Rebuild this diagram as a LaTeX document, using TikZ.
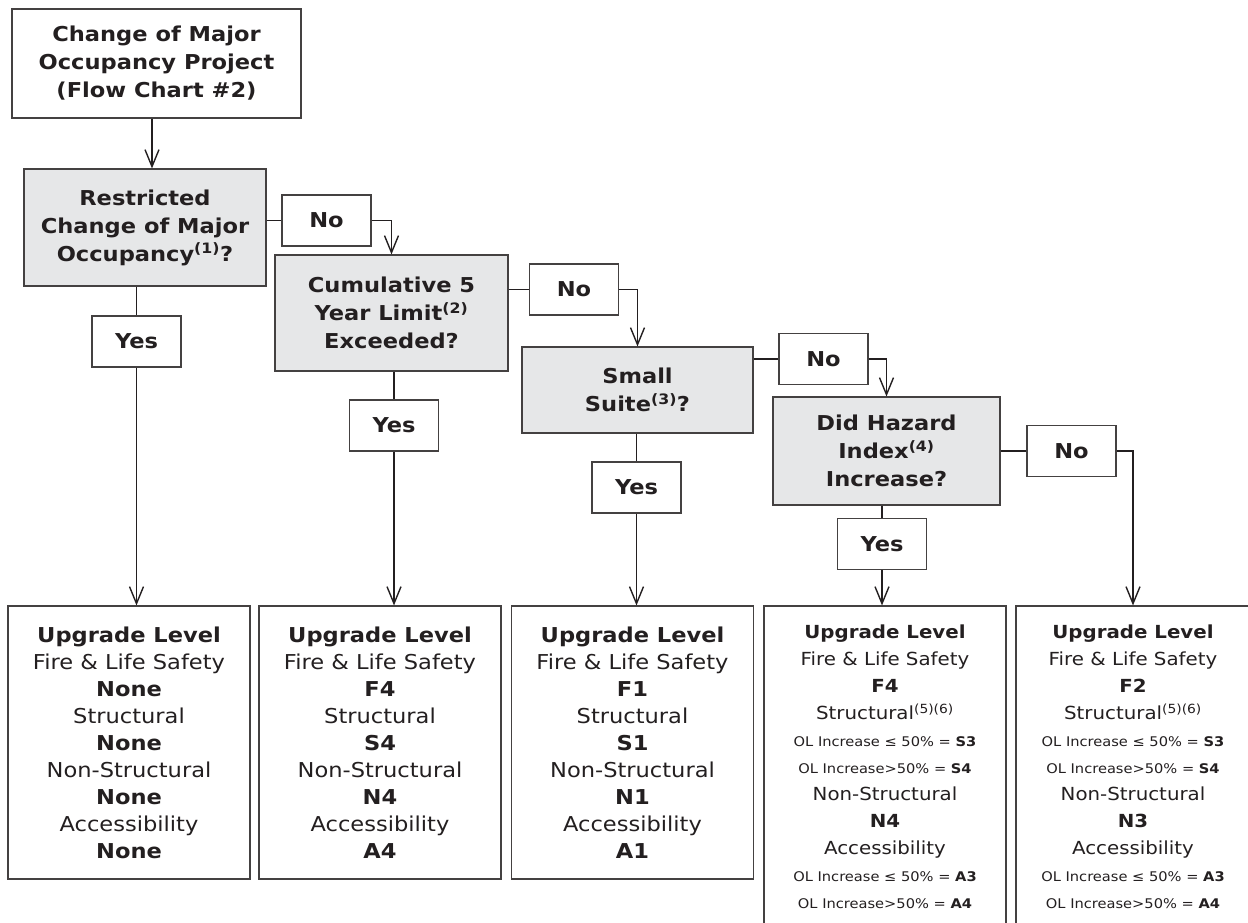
\documentclass[tikz,border=0pt]{standalone}
\usepackage{fontspec}
\setmainfont{DejaVu Sans}[FakeStretch=1.1]
\usetikzlibrary{arrows.meta}
\definecolor{qgray}{HTML}{E6E7E8}
\definecolor{ink}{HTML}{231F20}
\newcommand{\olsmall}[2]{{\fontsize{13.3}{27}\selectfont OL Increase#1 = \textbf{#2}}}

\begin{document}
\begin{tikzpicture}[x=1pt,y=-1pt,
    box/.style={draw=ink!85, line width=1.1pt, text=ink, align=center, inner sep=0pt},
    question/.style={box, fill=qgray, font=\fontsize{20.5}{28}\selectfont\bfseries},
    answer/.style={box, fill=white, minimum width=89, minimum height=51, font=\fontsize{20.5}{24}\selectfont\bfseries},
    level/.style={box, minimum width=242, minimum height=273, font=\fontsize{20.5}{27}\selectfont},
    levelsplit/.style={level, minimum height=322, font=\fontsize{18}{27}\selectfont},
    flow/.style={draw=ink, line width=1.4pt},
    arrow/.style={flow, -{Straight Barb[length=17pt,width=14pt]}}]
    \clip (0,0) rectangle (1248,923);

    % Start and questions
    \node[box, minimum width=289, minimum height=109, font=\fontsize{20.5}{28}\selectfont\bfseries] (start) at (156.5,63.5) {Change of Major\\Occupancy Project\\(Flow Chart \#2)};
    \node[question, minimum width=242, minimum height=117] (q1) at (145,227.5) {Restricted\\Change of Major\\Occupancy\textsuperscript{(1)}?};
    \node[question, minimum width=233, minimum height=116] (q2) at (391.5,313) {Cumulative 5\\Year Limit\textsuperscript{(2)}\\Exceeded?};
    \node[question, minimum width=231, minimum height=86] (q3) at (637.5,390) {Small\\Suite\textsuperscript{(3)}?};
    \node[question, minimum width=227, minimum height=108] (q4) at (886.5,451) {Did Hazard\\Index\textsuperscript{(4)}\\Increase?};

    % Answers
    \node[answer] (no1) at (326.5,220.5) {No};
    \node[answer] (no2) at (574,289.5) {No};
    \node[answer] (no3) at (823.5,359) {No};
    \node[answer] (no4) at (1071.5,451) {No};
    \node[answer] (yes1) at (136.5,341.5) {Yes};
    \node[answer] (yes2) at (394,425.5) {Yes};
    \node[answer] (yes3) at (636.5,487.5) {Yes};
    \node[answer] (yes4) at (882,544) {Yes};

    % Upgrade levels
    \node[level] (r1) at (129,742.5) {\textbf{Upgrade Level}\\Fire \& Life Safety\\\textbf{None}\\Structural\\\textbf{None}\\Non-Structural\\\textbf{None}\\Accessibility\\\textbf{None}};
    \node[level] (r2) at (380,742.5) {\textbf{Upgrade Level}\\Fire \& Life Safety\\\textbf{F4}\\Structural\\\textbf{S4}\\Non-Structural\\\textbf{N4}\\Accessibility\\\textbf{A4}};
    \node[level] (r3) at (632.5,742.5) {\textbf{Upgrade Level}\\Fire \& Life Safety\\\textbf{F1}\\Structural\\\textbf{S1}\\Non-Structural\\\textbf{N1}\\Accessibility\\\textbf{A1}};
    \node[levelsplit] (r4) at (885,767) {\textbf{Upgrade Level}\\Fire \& Life Safety\\\textbf{F4}\\Structural\textsuperscript{(5)(6)}\\\olsmall{ ≤ 50\%}{S3}\\\olsmall{>50\%}{S4}\\Non-Structural\\\textbf{N4}\\Accessibility\\\olsmall{ ≤ 50\%}{A3}\\\olsmall{>50\%}{A4}};
    \node[levelsplit, minimum width=234] (r5) at (1133,767) {\textbf{Upgrade Level}\\Fire \& Life Safety\\\textbf{F2}\\Structural\textsuperscript{(5)(6)}\\\olsmall{ ≤ 50\%}{S3}\\\olsmall{>50\%}{S4}\\Non-Structural\\\textbf{N3}\\Accessibility\\\olsmall{ ≤ 50\%}{A3}\\\olsmall{>50\%}{A4}};

    % Draw the "No" branches
    \draw[arrow] ([xshift=-4.5]start.south) -- ([xshift=-4.5]start.south |- q1.north);
    \draw[flow] (no1.west -| q1.east) -- (no1.west);
    \draw[arrow] (no1.east) -| (q2.north);
    \draw[flow] (no2.west -| q2.east) -- (no2.west);
    \draw[arrow] (no2.east) -| (q3.north);
    \draw[flow] (no3.west -| q3.east) -- (no3.west);
    \draw[arrow] (no3.east) -| (q4.north);
    \draw[flow] (q4.east) -- (no4.west);
    \draw[arrow] (no4.east) -| (r5.north);

    % Draw the "Yes" branches
    \draw[flow] (yes1.north |- q1.south) -- (yes1.north);
    \draw[arrow] (yes1.south) -- (yes1.south |- r1.north);
    \draw[flow] (yes2.north |- q2.south) -- (yes2.north);
    \draw[arrow] (yes2.south) -- (yes2.south |- r2.north);
    \draw[flow] (yes3.north |- q3.south) -- (yes3.north);
    \draw[arrow] (yes3.south) -- (yes3.south |- r3.north);
    \draw[flow] (yes4.north |- q4.south) -- (yes4.north);
    \draw[arrow] (yes4.south) -- (yes4.south |- r4.north);
\end{tikzpicture}
\end{document}
